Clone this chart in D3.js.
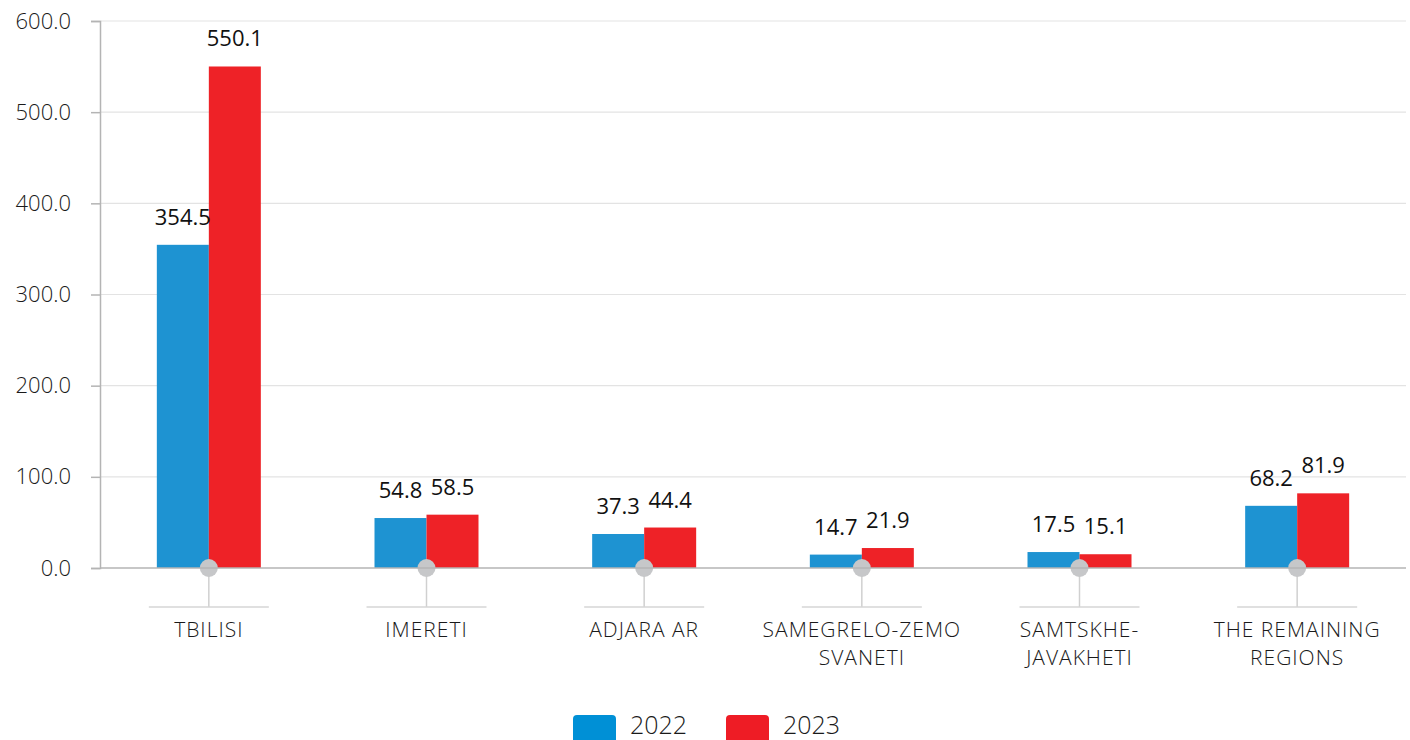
<!DOCTYPE html>
<html>
<head>
<meta charset="utf-8">
<script src="https://cdn.jsdelivr.net/npm/d3@7"></script>
<style>
  body { margin: 0; background: #fff; }
  text { font-family: "Open Sans", "Noto Sans", sans-serif; }
</style>
</head>
<body>
<div id="chart"></div>
<script>
var regions = [["TBILISI"], ["IMERETI"], ["ADJARA AR"], ["SAMEGRELO-ZEMO", "SVANETI"], ["SAMTSKHE-", "JAVAKHETI"], ["THE REMAINING", "REGIONS"]];
var values2022 = [354.5, 54.8, 37.3, 14.7, 17.5, 68.2];
var values2023 = [550.1, 58.5, 44.4, 21.9, 15.1, 81.9];
var years = ["2022", "2023"];
var yTicks = [0, 100, 200, 300, 400, 500, 600];

var color_2022 = '#1e93d2';
var color_2023 = '#ee2227';
var legend_2022 = '#0090d6';
var legend_2023 = '#ee1c25';

var width = 1410, height = 740;
var plotLeft = 100, plotRight = 1406, plotTop = 21, plotBottom = 568;

var svg = d3.select('#chart').append('svg')
  .attr('width', width)
  .attr('height', height);

var x = d3.scaleBand()
  .domain(d3.range(regions.length))
  .range([plotLeft, plotRight]);

var y = d3.scaleLinear()
  .domain([0, 600])
  .range([plotBottom, plotTop]);

var barW = 52;

// gridlines
svg.append('g').selectAll('line')
  .data(yTicks.slice(1))
  .enter()
  .append('line')
  .attr('x1', plotLeft).attr('x2', plotRight)
  .attr('y1', function(d){ return y(d); })
  .attr('y2', function(d){ return y(d); })
  .attr('stroke', '#e3e3e3')
  .attr('stroke-width', 1.2);

// y axis
var yAxis = svg.append('g')
  .attr('transform', 'translate(' + plotLeft + ',0)')
  .call(d3.axisLeft(y).tickValues(yTicks).tickSize(9).tickPadding(20)
    .tickFormat(function(d){ return d3.format('.1f')(d); }));
yAxis.select('.domain').attr('stroke', '#b4b4b4').attr('stroke-width', 1.5);
yAxis.selectAll('.tick line').attr('stroke', '#b4b4b4').attr('stroke-width', 1.5);
yAxis.selectAll('.tick text')
  .attr('font-size', 22)
  .attr('font-weight', 300)
  .attr('fill', '#1a1a1a')
  .attr('dy', '0.32em');

// bars
var groups = svg.append('g').selectAll('g')
  .data(regions)
  .enter()
  .append('g');

groups.append('rect')
  .attr('x', function(d, i){ return x(i) + x.bandwidth()/2 - barW; })
  .attr('y', function(d, i){ return y(values2022[i]); })
  .attr('width', barW)
  .attr('height', function(d, i){ return plotBottom - y(values2022[i]); })
  .attr('fill', color_2022);

groups.append('rect')
  .attr('x', function(d, i){ return x(i) + x.bandwidth()/2; })
  .attr('y', function(d, i){ return y(values2023[i]); })
  .attr('width', barW)
  .attr('height', function(d, i){ return plotBottom - y(values2023[i]); })
  .attr('fill', color_2023);

// value labels
groups.append('text')
  .attr('x', function(d, i){ return x(i) + x.bandwidth()/2 - barW/2; })
  .attr('y', function(d, i){ return y(values2022[i]) - 20; })
  .attr('text-anchor', 'middle')
  .attr('font-size', 22)
  .attr('fill', '#111')
  .text(function(d, i){ return d3.format('.1f')(values2022[i]); });

groups.append('text')
  .attr('x', function(d, i){ return x(i) + x.bandwidth()/2 + barW/2; })
  .attr('y', function(d, i){ return y(values2023[i]) - 20; })
  .attr('text-anchor', 'middle')
  .attr('font-size', 22)
  .attr('fill', '#111')
  .text(function(d, i){ return d3.format('.1f')(values2023[i]); });

// zero line
svg.append('line')
  .attr('x1', plotLeft).attr('x2', plotRight)
  .attr('y1', y(0)).attr('y2', y(0))
  .attr('stroke', '#b4b4b4')
  .attr('stroke-width', 1.5);

// category markers
groups.append('line')
  .attr('x1', function(d, i){ return x(i) + x.bandwidth()/2; })
  .attr('x2', function(d, i){ return x(i) + x.bandwidth()/2; })
  .attr('y1', y(0)).attr('y2', 607)
  .attr('stroke', '#d0d0d0')
  .attr('stroke-width', 1.5);

groups.append('line')
  .attr('x1', function(d, i){ return x(i) + x.bandwidth()/2 - 60; })
  .attr('x2', function(d, i){ return x(i) + x.bandwidth()/2 + 60; })
  .attr('y1', 607).attr('y2', 607)
  .attr('stroke', '#d6d6d6')
  .attr('stroke-width', 1.5);

groups.append('circle')
  .attr('cx', function(d, i){ return x(i) + x.bandwidth()/2; })
  .attr('cy', y(0))
  .attr('r', 9)
  .attr('fill', '#c6c7c9');

// category labels
var catText = groups.append('text')
  .attr('text-anchor', 'middle')
  .attr('font-size', 21)
  .attr('font-weight', 300)
  .attr('letter-spacing', 1)
  .attr('fill', '#1a1a1a');

catText.selectAll('tspan')
  .data(function(d, i){ return d.map(function(s){ return {s: s, i: i}; }); })
  .enter()
  .append('tspan')
  .attr('x', function(d){ return x(d.i) + x.bandwidth()/2; })
  .attr('y', function(d, j){ return 637 + j*28; })
  .text(function(d){ return d.s; });

// legend
var legendX = [573, 726];
var legendC = [legend_2022, legend_2023];
var legend = svg.append('g').selectAll('g')
  .data(years)
  .enter()
  .append('g')
  .attr('transform', function(d, i){ return 'translate(' + legendX[i] + ',715)'; });

legend.append('rect')
  .attr('width', 43).attr('height', 34)
  .attr('rx', 4)
  .attr('fill', function(d, i){ return legendC[i]; });

legend.append('text')
  .attr('x', 57).attr('y', 19)
  .attr('font-size', 25)
  .attr('font-weight', 300)
  .attr('fill', '#1a1a1a')
  .text(function(d){ return d; });
</script>
</body>
</html>
